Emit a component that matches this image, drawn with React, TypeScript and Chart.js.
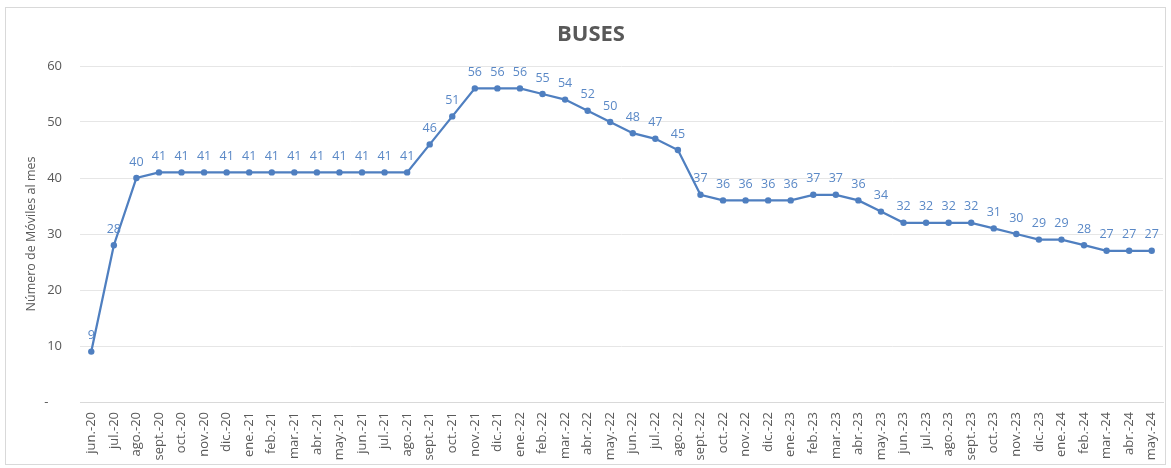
import React, { useEffect, useRef } from "react";
import { Chart, registerables } from "chart.js";

Chart.register(...registerables);

const categories: string[] = [
  "jun.-20", "jul.-20", "ago.-20", "sept.-20", "oct.-20", "nov.-20", "dic.-20",
  "ene.-21", "feb.-21", "mar.-21", "abr.-21", "may.-21", "jun.-21", "jul.-21", "ago.-21", "sept.-21", "oct.-21", "nov.-21", "dic.-21",
  "ene.-22", "feb.-22", "mar.-22", "abr.-22", "may.-22", "jun.-22", "jul.-22", "ago.-22", "sept.-22", "oct.-22", "nov.-22", "dic.-22",
  "ene.-23", "feb.-23", "mar.-23", "abr.-23", "may.-23", "jun.-23", "jul.-23", "ago.-23", "sept.-23", "oct.-23", "nov.-23", "dic.-23",
  "ene.-24", "feb.-24", "mar.-24", "abr.-24", "may.-24",
];

const buses: number[] = [
  9, 28, 40, 41, 41, 41, 41,
  41, 41, 41, 41, 41, 41, 41, 41, 46, 51, 56, 56,
  56, 55, 54, 52, 50, 48, 47, 45, 37, 36, 36, 36,
  36, 37, 37, 36, 34, 32, 32, 32, 32, 31, 30, 29,
  29, 28, 27, 27, 27,
];

const yTicks: number[] = [0, 10, 20, 30, 40, 50, 60];

const TITLE = "BUSES";
const Y_TITLE = "Número de Móviles al mes";
const FONT = "'Open Sans', 'DejaVu Sans', sans-serif";
const LINE_COLOR = "#4f7fc0";
const LABEL_COLOR = "#5a88c6";
const TEXT_COLOR = "#595959";

const labelPlugin = {
  id: "customLabels",
  afterDatasetsDraw(chart: any) {
    const ctx = chart.ctx;
    const meta = chart.getDatasetMeta(0);
    ctx.save();
    ctx.fillStyle = LABEL_COLOR;
    ctx.font = `12.5px ${FONT}`;
    ctx.textAlign = "center";
    ctx.textBaseline = "middle";
    meta.data.forEach((pt: any, i: number) => {
      ctx.fillText(String(buses[i]), pt.x, pt.y - 16);
    });
    ctx.restore();
  },
  afterDraw(chart: any) {
    const ctx = chart.ctx;
    ctx.save();
    ctx.fillStyle = TEXT_COLOR;
    ctx.font = `bold 22px ${FONT}`;
    ctx.textAlign = "center";
    ctx.textBaseline = "middle";
    ctx.fillText(TITLE, 591, 35);
    ctx.font = `12.5px ${FONT}`;
    ctx.translate(31, (chart.chartArea.top + chart.chartArea.bottom) / 2);
    ctx.rotate(-Math.PI / 2);
    ctx.fillText(Y_TITLE, 0, 0);
    ctx.restore();
  },
};

export default function App() {
  const canvasRef = useRef<HTMLCanvasElement | null>(null);

  useEffect(() => {
    if (!canvasRef.current) return;
    const chart = new Chart(canvasRef.current, {
      type: "line",
      data: {
        labels: categories,
        datasets: [
          {
            data: buses,
            borderColor: LINE_COLOR,
            backgroundColor: LINE_COLOR,
            borderWidth: 2.25,
            pointRadius: 3.2,
            pointBackgroundColor: LINE_COLOR,
            pointBorderWidth: 0,
            tension: 0,
          },
        ],
      },
      options: {
        animation: false,
        responsive: false,
        maintainAspectRatio: false,
        layout: { padding: { top: 66, right: 8, left: 0, bottom: 0 } },
        plugins: {
          legend: { display: false },
          title: { display: false },
          tooltip: { enabled: false },
        },
        scales: {
          x: {
            offset: true,
            grid: { display: false, drawTicks: false },
            border: { display: true, color: "#d9d9d9", width: 1 },
            ticks: {
              minRotation: 90,
              maxRotation: 90,
              autoSkip: false,
              padding: 10,
              color: TEXT_COLOR,
              font: { family: FONT, size: 13 },
            },
            afterFit(scale: any) {
              scale.height = 66;
              scale.paddingLeft = 0;
              scale.paddingRight = 0;
            },
          },
          y: {
            min: 0,
            max: 60,
            afterBuildTicks(scale: any) {
              scale.ticks = yTicks.map((v) => ({ value: v }));
            },
            grid: { color: "#e6e6e6", drawTicks: false, lineWidth: 1 },
            border: { display: false },
            ticks: {
              padding: 18,
              color: TEXT_COLOR,
              font: { family: FONT, size: 13 },
              callback: (v: any) => (v === 0 ? "-    " : String(v)),
            },
            afterFit(scale: any) {
              scale.width = 80;
              scale.paddingTop = 0;
              scale.paddingBottom = 0;
            },
          },
        },
      },
      plugins: [labelPlugin],
    });
    return () => chart.destroy();
  }, []);

  return (
    <div style={{ position: "fixed", left: 0, top: 0, width: 1171, height: 468, background: "#fff" }}>
      <div
        style={{
          position: "absolute",
          left: 5,
          top: 7,
          width: 1161,
          height: 458,
          border: "1px solid #d9d9d9",
          boxSizing: "border-box",
        }}
      />
      <canvas ref={canvasRef} width={1171} height={468} style={{ position: "absolute", left: 0, top: 0 }} />
    </div>
  );
}
